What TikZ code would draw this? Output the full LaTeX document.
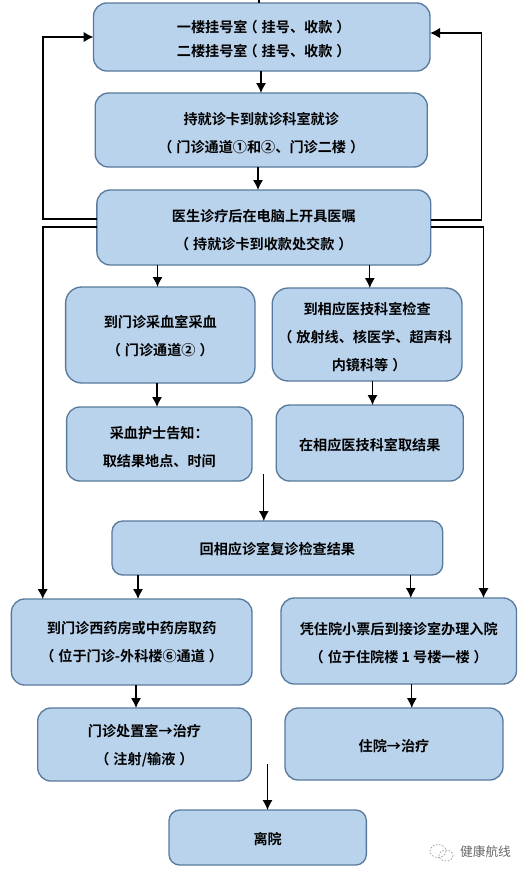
\documentclass[tikz,border=0pt]{standalone}
\usepackage{fontspec}
\setmainfont{Noto Sans CJK SC}[BoldFont={* Bold}]
\usetikzlibrary{arrows.meta}
\definecolor{boxfill}{RGB}{186,211,236}
\definecolor{boxedge}{RGB}{88,122,157}
\tikzset{
  flow/.style={draw=boxedge,fill=boxfill,line width=1pt,rounded corners=#1,inner sep=0pt,outer sep=0pt,align=center,
    font=\bfseries\fontsize{10.6pt}{21pt}\selectfont,text=black},
  flow/.default=10pt,
  thin arrow/.style={draw=black,line width=0.85pt,-{Latex[length=7.5pt,width=7.5pt]}},
  free arrow/.style={draw=black,line width=0.7pt,-{Latex[length=7.5pt,width=7.5pt]}},
  thick arrow/.style={draw=black,line width=1.4pt,line join=miter,-{Latex[length=7.5pt,width=8pt]}},
}
\newcommand{\flowbox}[6][10pt]{\node[flow=#1,minimum width={(#4-#2)*0.75pt},minimum height={(#5-#3)*0.75pt}] (#6) at ({(#2+#4)/2},{(#3+#5)/2})}
% pushes the text block of a node down by about #1 reference pixels
\newcommand{\dn}[1]{\rule{0pt}{\dimexpr 9.3pt+#1\dimexpr 1.5pt\relax\relax}}
% full-width brackets with the glyph centred in its cell
\newcommand{\lpar}{\kern-.28em（\kern.28em}
\newcommand{\rpar}{\kern.28em）\kern-.28em}
\begin{document}
\begin{tikzpicture}[x=0.75pt,y=-0.75pt]
\useasboundingbox (0,0) rectangle (527,876);
\fill[white] (0,0) rectangle (527,876);
\flowbox{93.5}{3}{430}{71}{A} {\dn{2}一楼挂号室\lpar 挂号、收款\rpar\\[-3pt]二楼挂号室\lpar 挂号、收款\rpar};
\flowbox{95.2}{93}{427.3}{167}{B} {\dn{2.5}持就诊卡到就诊科室就诊\\\lpar 门诊通道①和②、门诊二楼\rpar};
\flowbox{96.9}{190}{430.7}{265}{C} {\dn{2.5}医生诊疗后在电脑上开具医嘱\\\lpar 持就诊卡到收款处交款\rpar};
\flowbox[12pt]{65.6}{287}{255}{383}{D} {\dn{1}到门诊采血室采血\\\lpar 门诊通道②\rpar};
\flowbox[12pt]{272.2}{288}{462}{381}{E} {\dn{2.5}到相应医技科室检查\\\lpar 放射线、核医学、超声科\\内镜科等\rpar};
\flowbox{66.6}{407}{252}{481}{F} {\dn{2.5}采血护士告知：\\取结果地点、时间};
\flowbox{276.2}{405}{463.3}{481}{G} {\dn{2}在相应医技科室取结果};
\flowbox[8pt]{112}{521}{442.8}{575}{H} {\dn{1}回相应诊室复诊检查结果};
\flowbox{11.4}{599}{252}{685}{I} {到门诊西药房或中药房取药\\\lpar 位于门诊-外科楼⑥通道\rpar};
\flowbox{281}{598}{516.5}{684}{J} {\dn{2}凭住院小票后到接诊室办理入院\\\lpar 位于住院楼 1 号楼一楼\rpar};
\flowbox{37.7}{708}{251.3}{781}{K} {\dn{1}门诊处置室→治疗\\\lpar 注射/输液\rpar};
\flowbox{285}{708}{503}{780}{L} {\dn{2}住院→治疗};
\flowbox[8pt]{169}{810}{366.4}{865}{M} {\dn{1}离院};
% vertical arrows between boxes
\draw[thin arrow] (A.south -| 261,0) -- (B.north -| 261,0);
\draw[thin arrow] (B.south -| 258,0) -- (C.north -| 258,0);
\draw[thin arrow] (C.south -| 157.5,0) -- (D.north -| 157.5,0);
\draw[thin arrow] (C.south -| 369.8,0) -- (E.north -| 369.8,0);
\draw[thin arrow] (D.south -| 157,0) -- (F.north -| 157,0);
\draw[thin arrow] (E.south -| 372.5,0) -- (G.north -| 372.5,0);
\draw[thin arrow] (H.south -| 138,0) -- (I.north -| 138,0);
\draw[thin arrow] (H.south -| 410.8,0) -- (J.north -| 410.8,0);
\draw[thin arrow] (I.south -| 136,0) -- (K.north -| 136,0);
\draw[thin arrow] (J.south -| 411.8,0) -- (L.north -| 411.8,0);
% free arrows
\coordinate (f1) at (263.8,474);
\coordinate (f2) at (267.5,764);
\coordinate (top) at (259,0);
\draw[free arrow] (f1) -- (H.north -| f1);
\draw[free arrow] (f2) -- (M.north -| f2);
\draw[draw=black,line width=0.85pt] (top) -- (A.north -| top);
% thick loops
\coordinate (lu) at (43.3,218.7);
\coordinate (ld) at (42.7,227.3);
\coordinate (ru) at (481.5,220);
\coordinate (rd) at (483.5,227.3);
\coordinate (lt) at (43.3,37);
\coordinate (rt) at (481.5,33);
\draw[thick arrow] (C.west |- lu) -- (lu) -- (lt) -- (A.west |- lt);
\draw[thick arrow] (C.east |- ru) -- (ru) -- (rt) -- (A.east |- rt);
\draw[thick arrow] (C.west |- ld) -- (ld) -- (I.north -| ld);
\draw[thick arrow] (C.east |- rd) -- (rd) -- (J.north -| rd);
% watermark
\node[inner sep=0pt,text=black!60,font=\fontsize{9.5pt}{11pt}\selectfont] (wm) at (485.5,852) {健康航线};
\draw[black!40,line width=0.5pt,dash pattern=on 1.2pt off 1.2pt] (438,851) ellipse [x radius=8,y radius=6.5];
\draw[black!40,line width=0.5pt,dash pattern=on 1.2pt off 1.2pt] (446,855.5) ellipse [x radius=7,y radius=5.5];
\end{tikzpicture}
\end{document}
